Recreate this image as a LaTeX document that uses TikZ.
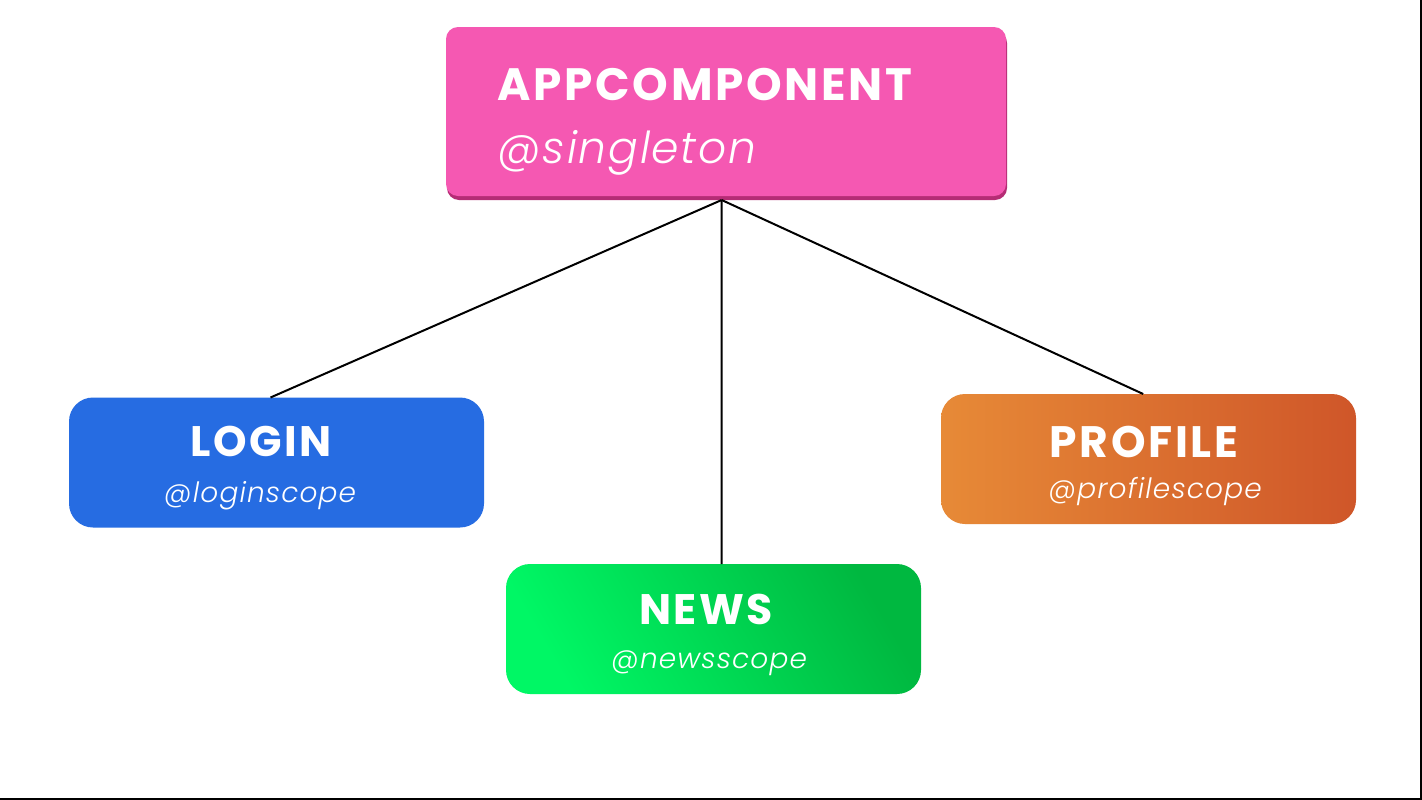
\documentclass[tikz,border=0pt]{standalone}
\usepackage{fontspec}
\setmainfont{Poppins}
\newfontfamily\ttlfont{Poppins}[LetterSpace=6]
\IfFontExistsTF{Poppins-LightItalic.ttf}
  {\newfontfamily\subfont{Poppins-LightItalic.ttf}[LetterSpace=4]}
  {\IfFontExistsTF{Poppins-LightItalic.otf}
    {\newfontfamily\subfont{Poppins-LightItalic.otf}[LetterSpace=4]}
    {\newfontfamily\subfont{Poppins Light}[LetterSpace=4, FakeSlant=0.2]}}
\definecolor{apppink}{HTML}{F558B2}
\definecolor{appshadow}{HTML}{B52C75}
\definecolor{loginblue}{HTML}{266CE2}
\definecolor{orangeL}{HTML}{E78A37}
\definecolor{orangeR}{HTML}{CF5629}
\definecolor{greenL}{HTML}{00F765}
\definecolor{greenR}{HTML}{00B840}
\tikzset{
  box/.style={inner sep=0pt, outer sep=0pt, minimum width=311.25pt, minimum height=97.5pt, rounded corners=18pt, draw=none},
  ttl/.style={text=white, font=\ttlfont\bfseries\fontsize{32}{34}\selectfont, inner sep=0pt, anchor=base},
  sub/.style={text=white, font=\subfont\fontsize{21}{24}\selectfont, inner sep=0pt, anchor=base},
  conn/.style={draw=black, line width=1.5pt}
}
\begin{document}
\begin{tikzpicture}[x=0.75pt, y=-0.75pt]
\useasboundingbox (0,0) rectangle (1422,800);
\fill[white] (0,0) rectangle (1422,800);
\draw[line width=1.5pt] (0,799) -- (1421,799) -- (1421,0);
% app box
\node[inner sep=0pt, outer sep=0pt, minimum width=420pt, minimum height=126.75pt, rounded corners=9pt, fill=appshadow] (appsh) at (727,115.5) {};
\node[inner sep=0pt, outer sep=0pt, minimum width=420pt, minimum height=126.75pt, rounded corners=9pt, fill=apppink] (app) at (726,111.5) {};
\node[text=white, font=\ttlfont\bfseries\fontsize{34}{38}\selectfont, inner sep=0pt, anchor=base west] (apptitle) at (497,100) {APPCOMPONENT};
\node[text=white, font=\subfont\fontsize{33}{36}\selectfont, inner sep=0pt, anchor=base west] (appsub) at (497,163) {@singleton};
% children
\node[box, fill=loginblue] (login) at (276.5,462.5) {};
\node[box, left color=orangeL, right color=orangeR] (profile) at (1148.5,459) {};
\node[box, left color=greenL, right color=greenR, shading angle=120] (news) at (713.5,629) {};
\node[ttl] (logint) at (261,456) {LOGIN};
\node[sub] (logins) at (260,502) {@loginscope};
\node[ttl, font=\ttlfont\bfseries\fontsize{33}{34}\selectfont] (profilet) at (1144,457) {PROFILE};
\node[sub] (profiles) at (1155,498) {@profilescope};
\node[ttl] (newst) at (706,624) {NEWS};
\node[sub] (newss) at (709,668) {@newsscope};
% connectors
\coordinate (hub) at ([xshift=-4pt]appsh.south);
\draw[conn] (hub) -- ([xshift=-4.5pt]login.north);
\draw[conn] (hub) -- ([xshift=6pt]news.north);
\draw[conn] (hub) -- ([xshift=-4pt]profile.north);
\end{tikzpicture}
\end{document}
